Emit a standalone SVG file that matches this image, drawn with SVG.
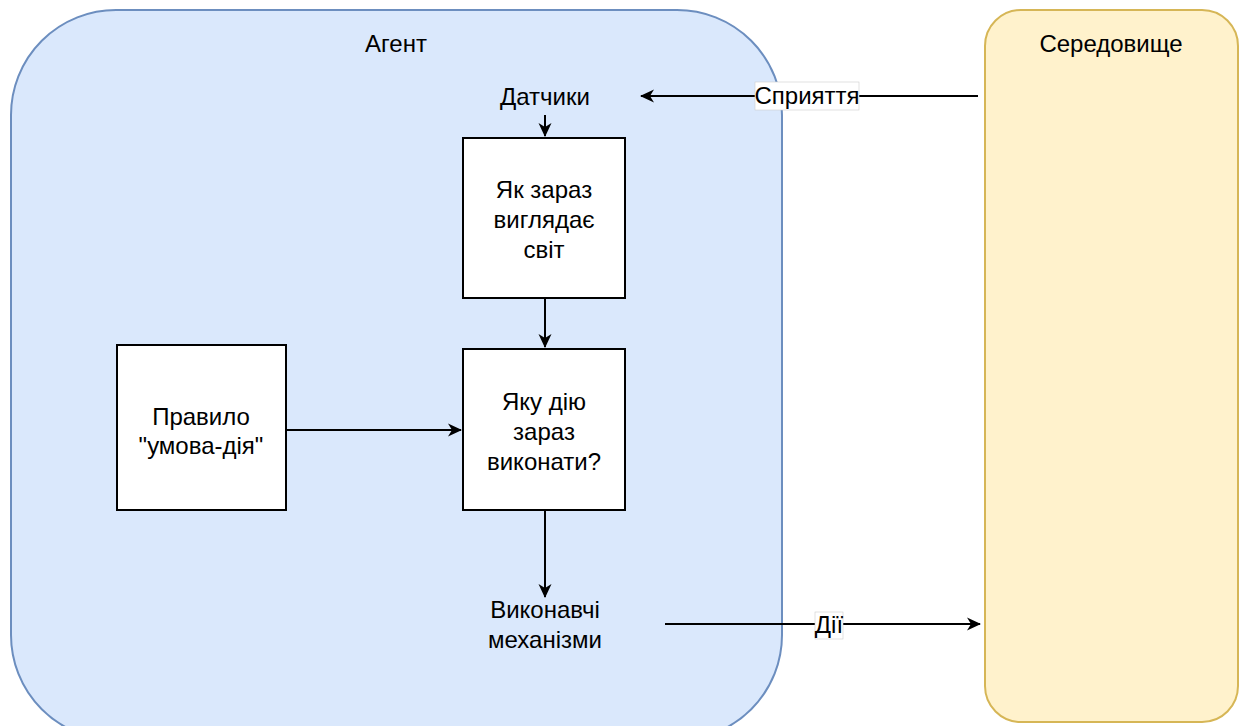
<svg xmlns="http://www.w3.org/2000/svg" width="1240" height="726" viewBox="0 0 1240 726">
<style>
text{font-family:"Liberation Sans",Arial,sans-serif;font-size:24px;fill:#000;text-anchor:middle}
.box{fill:#fff;stroke:#000;stroke-width:2}
.edge{stroke:#000;stroke-width:2;fill:none}
.lbl{fill:#fff;stroke:#ccc;stroke-width:0.6}
</style>
<defs>
<marker id="ah" viewBox="0 0 14 14" refX="13" refY="7" markerWidth="14" markerHeight="14" markerUnits="userSpaceOnUse" orient="auto">
<path d="M0,0.5 L14,7 L0,13.5 L4,7 Z" fill="#000"/>
</marker>
</defs>
<rect width="1240" height="726" fill="#fff"/>
<g id="agent">
<rect x="11" y="10" width="771" height="730" rx="105" ry="105" fill="#dae8fc" stroke="#6c8ebf" stroke-width="2"/>
<text x="396" y="52">Агент</text>
</g>
<g id="environment">
<rect x="985" y="10" width="253" height="712" rx="36" ry="36" fill="#fff2cc" stroke="#d6b656" stroke-width="2"/>
<text x="1111" y="52">Середовище</text>
</g>
<g id="sensors"><text x="545" y="105">Датчики</text></g>
<g id="world">
<rect class="box" x="463" y="138" width="162" height="160"/>
<text x="544" y="198">Як зараз</text><text x="544" y="228">виглядає</text><text x="544" y="258">світ</text>
</g>
<g id="action">
<rect class="box" x="463" y="349" width="162" height="161"/>
<text x="544" y="410">Яку дію</text><text x="544" y="440">зараз</text><text x="544" y="470">виконати?</text>
</g>
<g id="rule">
<rect class="box" x="117" y="345" width="169" height="165"/>
<text x="201" y="425">Правило</text><text x="201" y="454">"умова-дія"</text>
</g>
<g id="actuators"><text x="545" y="618">Виконавчі</text><text x="545" y="648">механізми</text></g>
<g id="connectors">
<line class="edge" x1="545" y1="115" x2="545" y2="136" marker-end="url(#ah)"/>
<line class="edge" x1="545" y1="298" x2="545" y2="347" marker-end="url(#ah)"/>
<line class="edge" x1="286" y1="430" x2="461" y2="430" marker-end="url(#ah)"/>
<line class="edge" x1="545" y1="510" x2="545" y2="597" marker-end="url(#ah)"/>
<line class="edge" x1="978" y1="96" x2="641" y2="96" marker-end="url(#ah)"/>
<rect class="lbl" x="755" y="82" width="104" height="28"/>
<text x="807" y="104">Сприяття</text>
<line class="edge" x1="665" y1="624" x2="980" y2="624" marker-end="url(#ah)"/>
<rect class="lbl" x="815" y="612" width="28" height="27"/>
<text x="829" y="633">Дії</text>
</g>
</svg>
